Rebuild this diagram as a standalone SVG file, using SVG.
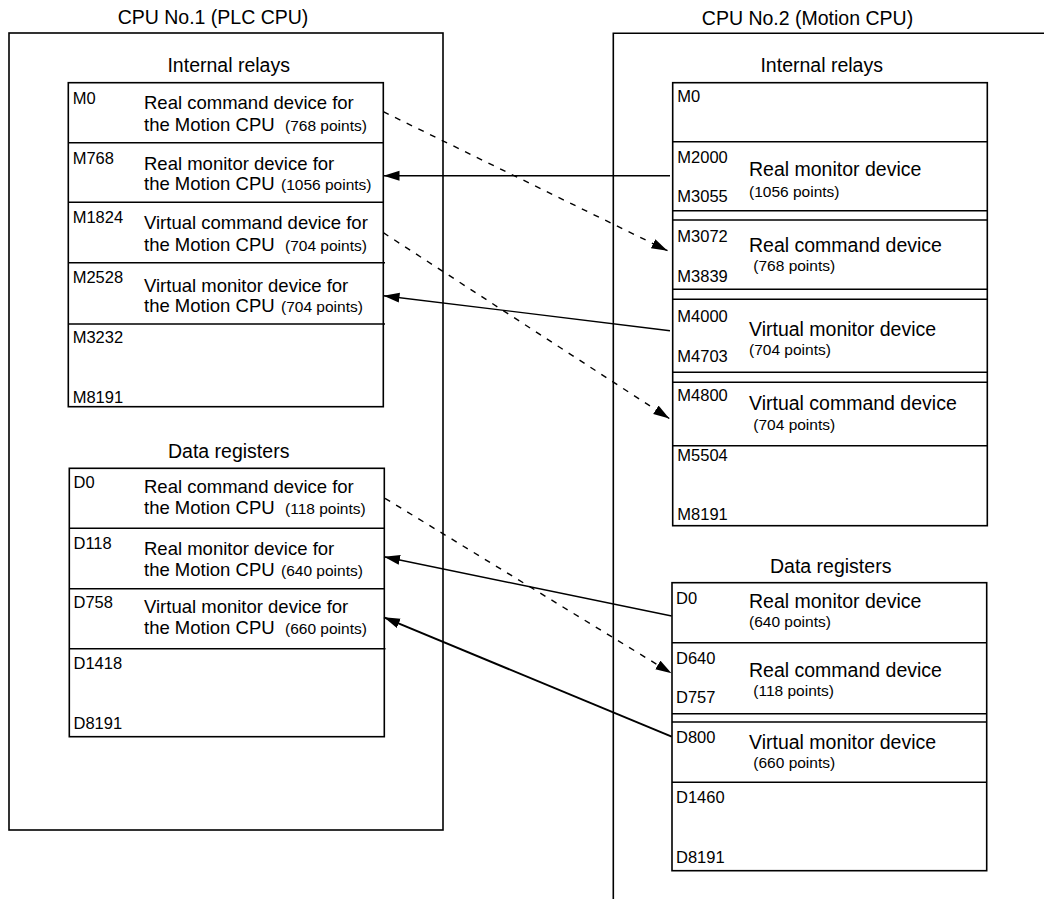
<svg xmlns="http://www.w3.org/2000/svg" width="1044" height="899" viewBox="0 0 1044 899">
<style>
text{font-family:"Liberation Sans",Arial,sans-serif;fill:#000}
.t{font-size:19.5px;text-anchor:middle}
.l{font-size:16.5px}
.d{font-size:18.5px}
.dr{font-size:19.5px}
.p{font-size:15.5px}
.box{fill:#fff;stroke:#000;stroke-width:1.6}
.ln{stroke:#000;stroke-width:1.6;fill:none}
.c{stroke:#000;stroke-width:1.4;fill:none;marker-end:url(#ah)}
.dash{stroke-dasharray:6 7}
</style>
<defs>
<marker id="ah" markerUnits="userSpaceOnUse" markerWidth="17" markerHeight="11" refX="16" refY="5" orient="auto">
<path d="M0,0 L16,5 L0,10 Z" fill="#000"/>
</marker>
</defs>

<g id="cpu1">
<rect class="box" x="9" y="33" width="434" height="797"/>
<text class="t" x="213" y="24">CPU No.1 (PLC CPU)</text>
</g>
<g id="cpu2">
<path class="ln" d="M1044,33.3 H613.3 V899"/>
<text class="t" x="807.5" y="24.5">CPU No.2 (Motion CPU)</text>
</g>

<g id="cpu1-relays">
<text class="t" x="228.7" y="72.3">Internal relays</text>
<rect class="box" x="68.3" y="82.7" width="315" height="324"/>
<path class="ln" d="M68.3,142.7H383.3M68.3,202.3H383.3M68.3,262.7H385M68.3,324H385"/>
<g id="m0"><text class="l" x="72.7" y="104">M0</text>
<text class="d" x="144" y="109.3">Real command device for</text>
<text class="d" x="144" y="130.7">the Motion CPU</text><text class="p" x="285" y="130.7">(768 points)</text></g>
<g id="m768"><text class="l" x="72.7" y="164">M768</text>
<text class="d" x="144" y="170">Real monitor device for</text>
<text class="d" x="144" y="190">the Motion CPU</text><text class="p" x="281" y="190">(1056 points)</text></g>
<g id="m1824"><text class="l" x="72.7" y="222.7">M1824</text>
<text class="d" x="144" y="229.3">Virtual command device for</text>
<text class="d" x="144" y="250.7">the Motion CPU</text><text class="p" x="285" y="250.7">(704 points)</text></g>
<g id="m2528"><text class="l" x="72.7" y="283.3">M2528</text>
<text class="d" x="144" y="291.7">Virtual monitor device for</text>
<text class="d" x="144" y="311.7">the Motion CPU</text><text class="p" x="281" y="311.7">(704 points)</text></g>
<g id="m3232"><text class="l" x="72.7" y="343.3">M3232</text>
<text class="l" x="72.7" y="403.3">M8191</text></g>
</g>

<g id="cpu1-data">
<text class="t" x="228.7" y="457.7">Data registers</text>
<rect class="box" x="69.3" y="468.3" width="315" height="268.4"/>
<path class="ln" d="M69.3,528.3H384.3M69.3,588.7H384.3M69.3,648.7H385.5"/>
<g id="d0"><text class="l" x="73.5" y="488.3">D0</text>
<text class="d" x="144" y="492.7">Real command device for</text>
<text class="d" x="144" y="514">the Motion CPU</text><text class="p" x="285" y="514">(118 points)</text></g>
<g id="d118"><text class="l" x="73.5" y="549.3">D118</text>
<text class="d" x="144" y="555">Real monitor device for</text>
<text class="d" x="144" y="576">the Motion CPU</text><text class="p" x="281" y="576">(640 points)</text></g>
<g id="d758"><text class="l" x="73.5" y="608.3">D758</text>
<text class="d" x="144" y="613.3">Virtual monitor device for</text>
<text class="d" x="144" y="634">the Motion CPU</text><text class="p" x="285" y="634">(660 points)</text></g>
<g id="d1418"><text class="l" x="73.5" y="669.3">D1418</text>
<text class="l" x="73.5" y="729.3">D8191</text></g>
</g>

<g id="cpu2-relays">
<text class="t" x="821.7" y="72.3">Internal relays</text>
<rect class="box" x="672.7" y="82.7" width="314.6" height="443"/>
<path class="ln" d="M672.7,141.7H987.3M672.7,210.7H987.3M672.7,220H987.3M672.7,289.3H987.3M672.7,299.3H987.3M672.7,372.3H987.3M672.7,382.3H987.3M672.7,445.7H987.3"/>
<g id="r-m0"><text class="l" x="677.3" y="101.7">M0</text></g>
<g id="r-m2000"><text class="l" x="677.3" y="162.7">M2000</text>
<text class="l" x="677.3" y="201.7">M3055</text>
<text class="dr" x="749" y="175.7">Real monitor device</text>
<text class="p" x="749" y="196.7">(1056 points)</text></g>
<g id="r-m3072"><text class="l" x="677.3" y="241.7">M3072</text>
<text class="l" x="677.3" y="281.7">M3839</text>
<text class="dr" x="749" y="251.7">Real command device</text>
<text class="p" x="753.3" y="270.5">(768 points)</text></g>
<g id="r-m4000"><text class="l" x="677.3" y="321.7">M4000</text>
<text class="l" x="677.3" y="361.7">M4703</text>
<text class="dr" x="749" y="335.7">Virtual monitor device</text>
<text class="p" x="749" y="355">(704 points)</text></g>
<g id="r-m4800"><text class="l" x="677.3" y="400.7">M4800</text>
<text class="dr" x="749" y="410">Virtual command device</text>
<text class="p" x="753.3" y="430">(704 points)</text></g>
<g id="r-m5504"><text class="l" x="677.3" y="460.7">M5504</text>
<text class="l" x="677.3" y="520">M8191</text></g>
</g>

<g id="cpu2-data">
<text class="t" x="830.7" y="572.7">Data registers</text>
<rect class="box" x="672" y="582.7" width="314.7" height="288"/>
<path class="ln" d="M672,642.7H986.7M672,713.7H986.7M672,722H986.7M672,782.3H986.7"/>
<g id="r-d0"><text class="l" x="676" y="604">D0</text>
<text class="dr" x="749" y="608.3">Real monitor device</text>
<text class="p" x="749" y="627.3">(640 points)</text></g>
<g id="r-d640"><text class="l" x="676" y="664">D640</text>
<text class="l" x="676" y="703.3">D757</text>
<text class="dr" x="749" y="676.7">Real command device</text>
<text class="p" x="753.3" y="696">(118 points)</text></g>
<g id="r-d800"><text class="l" x="676" y="742.7">D800</text>
<text class="dr" x="749" y="749.3">Virtual monitor device</text>
<text class="p" x="753.3" y="768.3">(660 points)</text></g>
<g id="r-d1460"><text class="l" x="676" y="803.3">D1460</text>
<text class="l" x="676" y="862.7">D8191</text></g>
</g>

<g id="connectors">
<line class="c dash" x1="383.3" y1="111.7" x2="667.5" y2="250.7"/>
<line class="c" x1="670" y1="175.7" x2="383.5" y2="175.7"/>
<line class="c dash" x1="383.3" y1="232.7" x2="669.3" y2="418.5"/>
<line class="c" x1="670" y1="330.7" x2="383.5" y2="295.7"/>
<line class="c dash" x1="385" y1="498.3" x2="671.5" y2="673.3"/>
<line class="c" x1="671.7" y1="616" x2="384" y2="556.7"/>
<line class="c" style="stroke-width:2" x1="671.7" y1="736.7" x2="384" y2="617.3"/>
</g>
</svg>
